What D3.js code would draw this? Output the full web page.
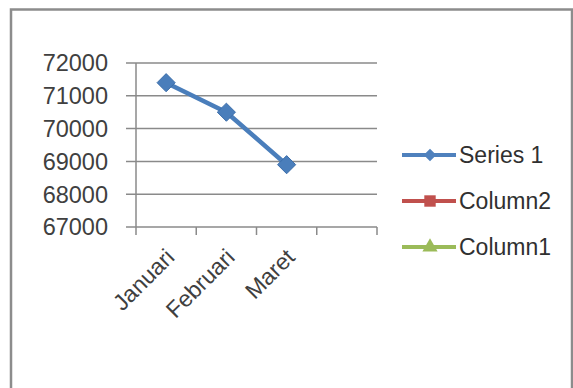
<!DOCTYPE html>
<html><head><meta charset="utf-8">
<script src="https://cdn.jsdelivr.net/npm/d3@7"></script>
<style>body{margin:0;background:#fff}svg{display:block}</style>
</head><body>
<script>
const categories = ["Januari", "Februari", "Maret", ""];
const series1 = [71400, 70500, 68900, null];
const yTicks = [67000, 68000, 69000, 70000, 71000, 72000];
const legendNames = ["Series 1", "Column2", "Column1"];
const legendColors = ["#4F81BD", "#C0504D", "#9BBB59"];
const legendMarkers = ["diamond", "square", "triangle"];

const W = 573, H = 388;
const svg = d3.select("body").append("svg").attr("width", W).attr("height", H);
const font = "'Liberation Sans', Arial, sans-serif";

svg.append("rect").attr("x", 11).attr("y", 9.5).attr("width", 561).attr("height", 390)
  .attr("fill", "#fff").attr("stroke", "#8c8c8c").attr("stroke-width", 2.5);

const x = d3.scaleBand().domain(categories.map((d, i) => i)).range([136, 377]).padding(0);
const y = d3.scaleLinear().domain([67000, 72000]).range([227, 63]);

// gridlines
svg.append("g").selectAll("line").data(yTicks).join("line")
  .attr("x1", 126).attr("x2", 377).attr("y1", d => y(d)).attr("y2", d => y(d))
  .attr("stroke", "#8a8a8a").attr("stroke-width", 1.5);

// y axis
svg.append("line").attr("x1", 136).attr("x2", 136).attr("y1", 63).attr("y2", 227)
  .attr("stroke", "#8a8a8a").attr("stroke-width", 1.5);
svg.append("g").selectAll("text").data(yTicks).join("text")
  .attr("x", 108).attr("y", d => y(d)).attr("dy", "0.36em").attr("text-anchor", "end")
  .attr("font-family", font).attr("font-size", 23.5).attr("fill", "#404040")
  .text(d => d);

// x axis ticks
const bounds = categories.map((d, i) => x(i)).concat([x.range()[1]]);
svg.append("g").selectAll("line").data(bounds).join("line")
  .attr("x1", d => d).attr("x2", d => d).attr("y1", 227).attr("y2", 235)
  .attr("stroke", "#8a8a8a").attr("stroke-width", 1.5);

// category labels
svg.append("g").selectAll("text").data(categories).join("text")
  .attr("transform", (d, i) => `translate(${x(i) + x.bandwidth() / 2 + 4},${253}) rotate(-45)`)
  .attr("text-anchor", "end").attr("dy", "0.35em")
  .attr("font-family", font).attr("font-size", 23).attr("fill", "#404040")
  .text(d => d);

// series line
const pts = series1.map((v, i) => ({ i, v })).filter(d => d.v != null);
const line = d3.line().x(d => x(d.i) + x.bandwidth() / 2).y(d => y(d.v));
svg.append("path").datum(pts).attr("d", line).attr("fill", "none")
  .attr("stroke", "#4A7EBB").attr("stroke-width", 4.5).attr("stroke-linejoin", "round");
svg.append("g").selectAll("path").data(pts).join("path")
  .attr("transform", d => `translate(${x(d.i) + x.bandwidth() / 2},${y(d.v)})`)
  .attr("d", d3.symbol(d3.symbolDiamond2, 210)())
  .attr("fill", "#4A7EBB").attr("stroke", "#3C6EAA").attr("stroke-width", 1);

// legend
const symMap = { diamond: d3.symbolDiamond2, square: d3.symbolSquare, triangle: d3.symbolTriangle };
const sizeMap = { diamond: 100, square: 130, triangle: 100 };
const lg = svg.append("g").selectAll("g").data(legendNames).join("g")
  .attr("transform", (d, i) => `translate(0,${155 + i * 46})`);
lg.append("line").attr("x1", 402).attr("x2", 456).attr("y1", 0).attr("y2", 0)
  .attr("stroke", (d, i) => legendColors[i]).attr("stroke-width", 4);
lg.append("path").attr("transform", "translate(430,0)")
  .attr("d", (d, i) => d3.symbol(symMap[legendMarkers[i]], sizeMap[legendMarkers[i]])())
  .attr("fill", (d, i) => legendColors[i]);
lg.append("text").attr("x", 459).attr("y", 0).attr("dy", "0.36em")
  .attr("font-family", font).attr("font-size", 23).attr("fill", "#303030")
  .text(d => d);
</script>
</body></html>
